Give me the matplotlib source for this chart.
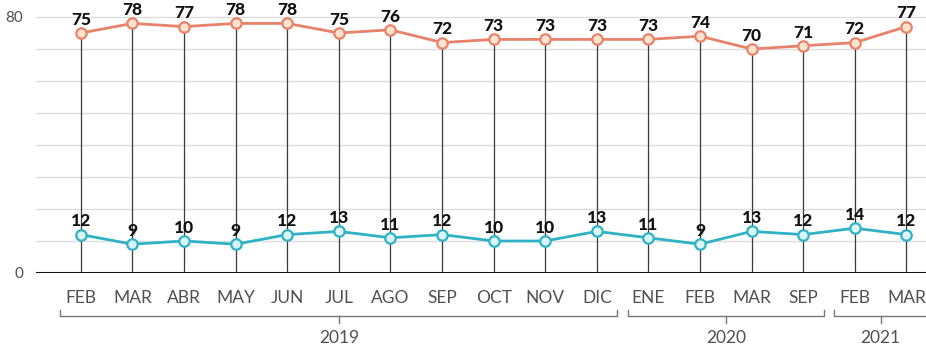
import matplotlib
matplotlib.use("Agg")
import matplotlib.pyplot as plt
import numpy

months = ["FEB", "MAR", "ABR", "MAY", "JUN", "JUL", "AGO", "SEP", "OCT",
          "NOV", "DIC", "ENE", "FEB", "MAR", "SEP", "FEB", "MAR"]
years = ["2019", "2020", "2021"]
year_groups = [(0, 10), (11, 14), (15, 16)]  # first and last month index
upper = [75, 78, 77, 78, 78, 75, 76, 72, 73, 73, 73, 73, 74, 70, 71, 72, 77]
lower = [12, 9, 10, 9, 12, 13, 11, 12, 10, 10, 13, 11, 9, 13, 12, 14, 12]

orange = "#e8826a"
orange_fill = "#fde4cf"
blue = "#2fb2c6"
blue_fill = "#dcf5f8"
thin = dict(family="Lato", weight="normal", color="#505050")
bold = dict(family="Lato", weight="black", color="#111111", fontsize=12.5)

def main():
    figure = plt.figure(figsize=(9.26, 3.49), dpi=100)
    ax = figure.add_axes([36/926, 76/349, 1 - 36/926, 272/349])
    x = numpy.arange(len(months))

    ax.set_xlim(-0.87, 16.38)
    ax.set_ylim(0, 85)
    for level in range(10, 90, 10):
        ax.axhline(level, color="#dddddd", lw=1, zorder=0)
    ax.axhline(0, color="#111111", lw=2.2, zorder=3)

    # drop lines from the top series to the baseline
    ax.vlines(x, 0, upper, color="#3a3a3a", lw=0.9, zorder=1)

    for values, line, fill in [(upper, orange, orange_fill), (lower, blue, blue_fill)]:
        ax.plot(x, values, "-o", color=line, lw=2, ms=7.5, mfc=fill,
                mec=line, mew=1.6, zorder=4)
        for xi, v in zip(x, values):
            ax.annotate(str(v), (xi, v), xytext=(0, 9.5), textcoords="offset points",
                        ha="center", va="center", zorder=5, **bold)

    for side in ax.spines.values():
        side.set_visible(False)
    ax.set_xticks(x, months, fontsize=12.5, **thin)
    ax.tick_params(axis="x", length=0, pad=12)
    ax.set_yticks([0, 80], ["0", "80"], fontsize=11, **thin)
    ax.tick_params(axis="y", length=0, pad=9)

    # year brackets below the month labels
    trans = ax.get_xaxis_transform()
    for year, (first, last) in zip(years, year_groups):
        left, right = first - 0.4, last + 0.4
        middle = (first + last) / 2
        ax.plot([left, left, right, right], [-0.136, -0.158, -0.158, -0.136],
                color="#777777", lw=1, transform=trans, clip_on=False)
        ax.plot([middle, middle], [-0.158, -0.184], color="#777777", lw=1,
                transform=trans, clip_on=False)
        ax.text(middle, -0.239, year, ha="center", va="center", fontsize=12.5,
                transform=trans, **thin)

    figure.savefig("out.png", dpi=100)

if __name__ == "__main__":
    main()
